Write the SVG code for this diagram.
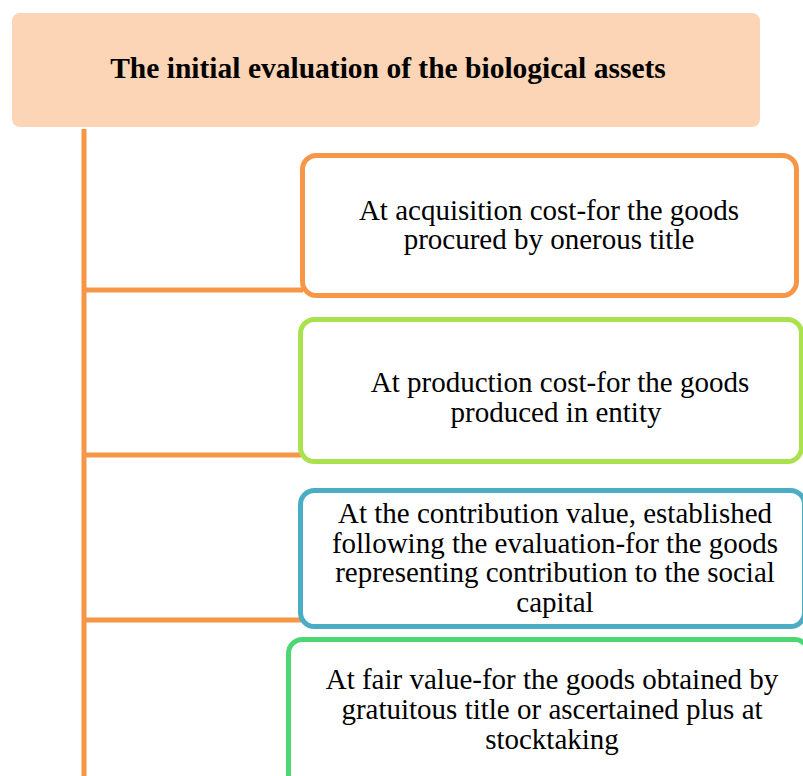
<svg xmlns="http://www.w3.org/2000/svg" width="803" height="776" viewBox="0 0 803 776">
<style>
  .t{font-size:29px;fill:#000;text-anchor:middle}
  .title{font-size:29.5px;font-weight:bold;fill:#000;text-anchor:middle}
  .box{fill:#fff;stroke-width:5}
  .conn{stroke:#F79646;stroke-width:5;fill:none}
</style>
<rect width="803" height="776" fill="#fff"/>
<g id="connectors">
  <line class="conn" x1="84" y1="129" x2="84" y2="776"/>
  <line class="conn" x1="84" y1="290" x2="303" y2="290"/>
  <line class="conn" x1="84" y1="455" x2="301" y2="455"/>
  <line class="conn" x1="84" y1="620" x2="301" y2="620"/>
</g>
<g font-family="Liberation Serif, 'Times New Roman', serif">
<g id="root">
  <rect x="12" y="13" width="748" height="114" rx="8" fill="#FBD5B5"/>
  <text class="title" x="388" y="78">The initial evaluation of the biological assets</text>
</g>
<g id="node1">
  <rect class="box" x="302.5" y="155.5" width="494" height="140" rx="14" stroke="#F79646"/>
  <text class="t" x="549" y="219.5">At acquisition cost-for the goods</text>
  <text class="t" x="549" y="249">procured by onerous title</text>
</g>
<g id="node2">
  <rect class="box" x="300.5" y="319.5" width="501" height="142" rx="14" stroke="#A9E24C"/>
  <text class="t" x="560" y="392">At production cost-for the goods</text>
  <text class="t" x="556" y="421.5">produced in entity</text>
</g>
<g id="node3">
  <rect class="box" x="300.5" y="490.5" width="504" height="136" rx="14" stroke="#4BACC6"/>
  <text class="t" x="555" y="523">At the contribution value, established</text>
  <text class="t" x="555" y="552.5">following the evaluation-for the goods</text>
  <text class="t" x="555" y="582">representing contribution to the social</text>
  <text class="t" x="555" y="611.5">capital</text>
</g>
<g id="node4">
  <rect class="box" x="288.5" y="639.5" width="520" height="150" rx="14" stroke="#4CD674"/>
  <text class="t" x="552" y="689">At fair value-for the goods obtained by</text>
  <text class="t" x="552" y="719">gratuitous title or ascertained plus at</text>
  <text class="t" x="552" y="749">stocktaking</text>
</g>
</g>
</svg>
